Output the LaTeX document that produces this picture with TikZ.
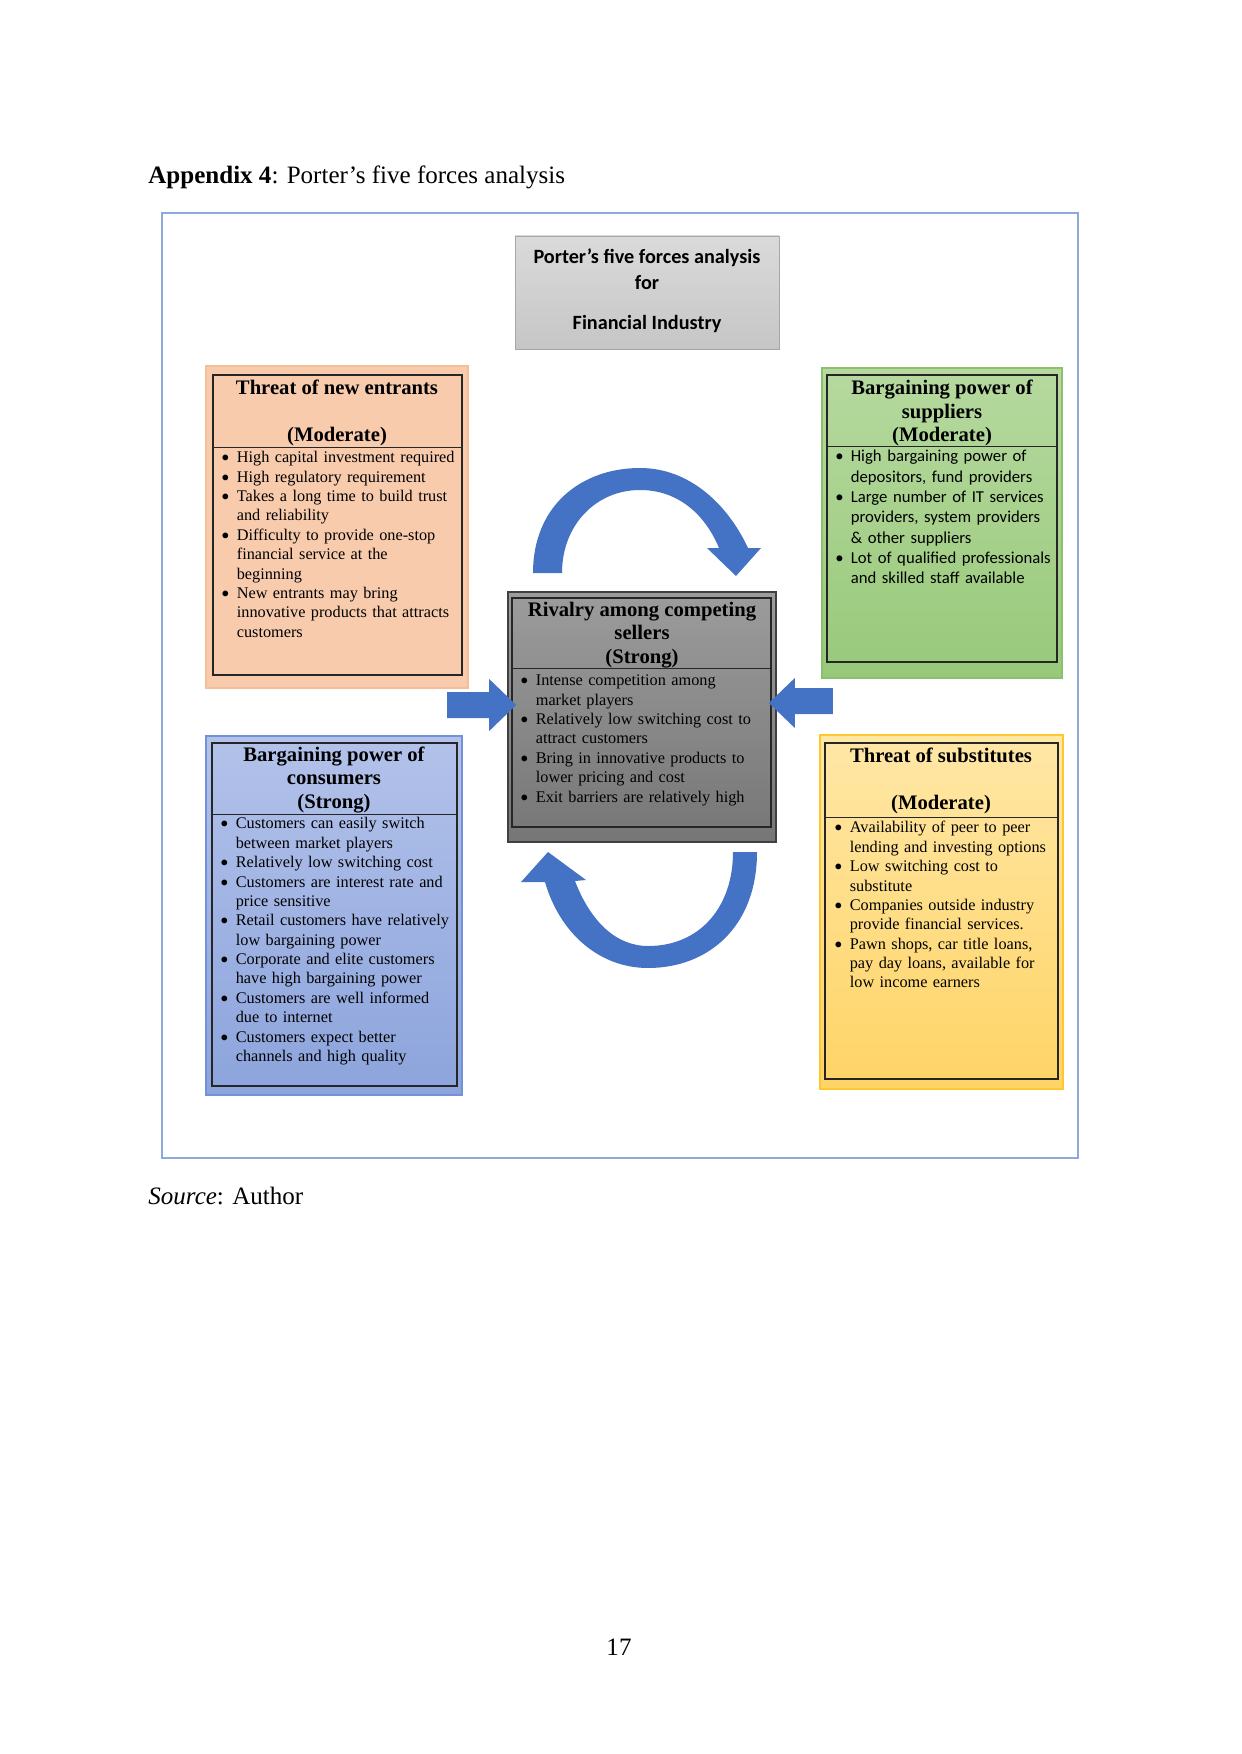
\documentclass[tikz,border=0pt]{standalone}
\usepackage{fontspec}
\setmainfont{Liberation Serif}
\newfontfamily\calibri{Carlito}
\usetikzlibrary{calc,fit}

\definecolor{peach}{HTML}{F8CBAD}
\definecolor{peachline}{HTML}{F6BE98}
\definecolor{leafA}{HTML}{B6D99F}
\definecolor{leafB}{HTML}{98C97A}
\definecolor{leafline}{HTML}{8CC06C}
\definecolor{skyA}{HTML}{B3C2EA}
\definecolor{skyB}{HTML}{8CA4DC}
\definecolor{skyline}{HTML}{7391D8}
\definecolor{sunA}{HTML}{FFE7A6}
\definecolor{sunB}{HTML}{FFD466}
\definecolor{sunline}{HTML}{FFC62E}
\definecolor{slateA}{HTML}{9C9C9C}
\definecolor{slateB}{HTML}{767676}
\definecolor{cloudA}{HTML}{DADADA}
\definecolor{cloudB}{HTML}{C6C6C6}
\definecolor{arrowblue}{HTML}{4472C4}
\definecolor{panelblue}{HTML}{8EA9DB}

\newlength\bulletgap
\setlength\bulletgap{7.4pt}
\newcommand\forceitem[1]{\par\noindent\hangindent=\bulletgap\hangafter=1%
  \makebox[\bulletgap][l]{{\calibri\textbullet}}#1\par}

\begin{document}
\begin{tikzpicture}[x=0.4795pt,y=-0.4795pt,
  forcebg/.style={rectangle,inner sep=0pt,line width=0.8pt},
  forceframe/.style={draw=black!85,rectangle,inner sep=0pt,line width=0.6pt},
  forcehead/.style={align=center,inner sep=0pt,font=\fontsize{9.9}{11.2}\selectfont\bfseries},
  forcelist/.style={anchor=north west,inner sep=0pt,align=left,text width=124pt,
    font=\fontsize{7.8}{9.3}\selectfont},
  sep/.style={draw=black!85,line width=0.6pt},
  bigarrow/.style={fill=arrowblue}
]
  \useasboundingbox (0,0) rectangle (1241,1754);

  \node[anchor=west,inner sep=0pt,font=\fontsize{12}{14}\selectfont] (apxtitle) at (148,177)
    {\textbf{Appendix 4}: Porter’s five forces analysis};
  \node[draw=panelblue,line width=0.7pt,inner sep=0pt,fit={(162,213) (1078,1158)}] (panel) {};

  % heading box
  \node[draw=black!35,top color=cloudA,bottom color=cloudB,inner sep=0pt,
    fit={(515,236) (779,349)}] (topic) {};
  \node[align=center,inner sep=0pt,font=\calibri\bfseries\fontsize{9.7}{12.5}\selectfont] (topictxt)
    at (647,291) {Porter’s five forces analysis\\for\\[6.7pt]Financial Industry};

  % threat of new entrants
  \node[forcebg,fill=peach,draw=peachline,fit={(206,366) (468,688)}] (entr) {};
  \node[forceframe,fit={(213,375) (462,675)}] (entrin) {};
  \draw[sep] ($(entrin.north west)+(0,73)$) -- ($(entrin.north east)+(0,73)$);
  \node[forcehead] (entrhd) at (337,413) {Threat of new entrants\\[11.2pt](Moderate)};
  \node[forcelist] (entrls) at (221,443) {%
    \forceitem{High capital investment required}
    \forceitem{High regulatory requirement}
    \forceitem{Takes a long time to build trust\newline and reliability}
    \forceitem{Difficulty to provide one-stop\newline financial service at the\newline beginning}
    \forceitem{New entrants may bring\newline innovative products that attracts\newline customers}};

  % bargaining power of suppliers
  \node[forcebg,top color=leafA,bottom color=leafB,draw=leafline,fit={(822,368) (1062,678)}] (supp) {};
  \node[forceframe,fit={(827,375) (1057,662)}] (suppin) {};
  \draw[sep] ($(suppin.north west)+(0,72)$) -- ($(suppin.north east)+(0,72)$);
  \node[forcehead] (supphd) at (942,413) {Bargaining power of\\suppliers\\(Moderate)};
  \node[forcelist,font=\calibri\fontsize{8}{9.75}\selectfont] (suppls) at (835,441) {%
    \forceitem{High bargaining power of\newline depositors, fund providers}
    \forceitem{Large number of IT services\newline providers, system providers\newline \& other suppliers}
    \forceitem{Lot of qualified professionals\newline and skilled staff available}};

  % rivalry among competing sellers
  \node[forcebg,top color=slateA,bottom color=slateB,draw=black!75,fit={(508,592) (776,842)}] (rival) {};
  \node[forceframe,fit={(512,598) (771,827)}] (rivalin) {};
  \draw[sep] ($(rivalin.north west)+(0,71)$) -- ($(rivalin.north east)+(0,71)$);
  \node[forcehead] (rivalhd) at (642,635) {Rivalry among competing\\sellers\\(Strong)};
  \node[forcelist] (rivalls) at (520,666) {%
    \forceitem{Intense competition among\newline market players}
    \forceitem{Relatively low switching cost to\newline attract customers}
    \forceitem{Bring in innovative products to\newline lower pricing and cost}
    \forceitem{Exit barriers are relatively high}};

  % bargaining power of consumers
  \node[forcebg,top color=skyA,bottom color=skyB,draw=skyline,fit={(206,736) (462,1095)}] (cons) {};
  \node[forceframe,fit={(212,743) (457,1086)}] (consin) {};
  \draw[sep] ($(consin.north west)+(0,72)$) -- ($(consin.north east)+(0,72)$);
  \node[forcehead] (conshd) at (334,780) {Bargaining power of\\consumers\\(Strong)};
  \node[forcelist] (consls) at (220,809) {%
    \forceitem{Customers can easily switch\newline between market players}
    \forceitem{Relatively low switching cost}
    \forceitem{Customers are interest rate and\newline price sensitive}
    \forceitem{Retail customers have relatively\newline low bargaining power}
    \forceitem{Corporate and elite customers\newline have high bargaining power}
    \forceitem{Customers are well informed\newline due to internet}
    \forceitem{Customers expect better\newline channels and high quality}};

  % threat of substitutes
  \node[forcebg,top color=sunA,bottom color=sunB,draw=sunline,fit={(820,735) (1063,1089)}] (subs) {};
  \node[forceframe,fit={(825,743) (1058,1079)}] (subsin) {};
  \draw[sep] ($(subsin.north west)+(0,75)$) -- ($(subsin.north east)+(0,75)$);
  \node[forcehead] (subshd) at (941,781) {Threat of substitutes\\[11.2pt](Moderate)};
  \node[forcelist] (subsls) at (834,813) {%
    \forceitem{Availability of peer to peer\newline lending and investing options}
    \forceitem{Low switching cost to\newline substitute}
    \forceitem{Companies outside industry\newline provide financial services.}
    \forceitem{Pawn shops, car title loans,\newline pay day loans, available for\newline low income earners}};

  % block arrows into the rivalry box
  \fill[bigarrow] ($(rival.west)+(9,-12)$) coordinate (tipL) -- ++(-27,-26) -- ++(0,13)
    -- ++(-42,0) -- ++(0,26) -- ++(42,0) -- ++(0,13) -- cycle;
  \fill[bigarrow] ($(rival.east)+(-8,-14)$) coordinate (tipR) -- ++(26,-25) -- ++(0,10)
    -- ++(38,0) -- ++(0,26) -- ++(-38,0) -- ++(0,14) -- cycle;

  % curved arrows above and below
  \fill[bigarrow] (533,573) .. controls (533,505) and (582,468) .. (640,468)
    .. controls (690,468) and (728,505) .. (748,548) -- (761,548) -- (736,576)
    -- (707,548) -- (719,548) .. controls (704,512) and (676,490) .. (640,490)
    .. controls (596,490) and (562,525) .. (562,573) -- cycle;
  \fill[bigarrow] (757,852) .. controls (757,927) and (708,968) .. (648,968)
    .. controls (600,968) and (560,934) .. (545,882) -- (521,882) -- (548,852)
    -- (586,880) -- (575,881) .. controls (590,920) and (615,946) .. (648,946)
    .. controls (700,946) and (733,907) .. (733,852) -- cycle;

  \node[anchor=west,inner sep=0pt,font=\fontsize{12}{14}\selectfont] (srcnote) at (148,1196)
    {\textit{Source}: Author};
  \node[inner sep=0pt,font=\fontsize{12}{14}\selectfont] (pagenum) at (619,1647) {17};
\end{tikzpicture}
\end{document}
